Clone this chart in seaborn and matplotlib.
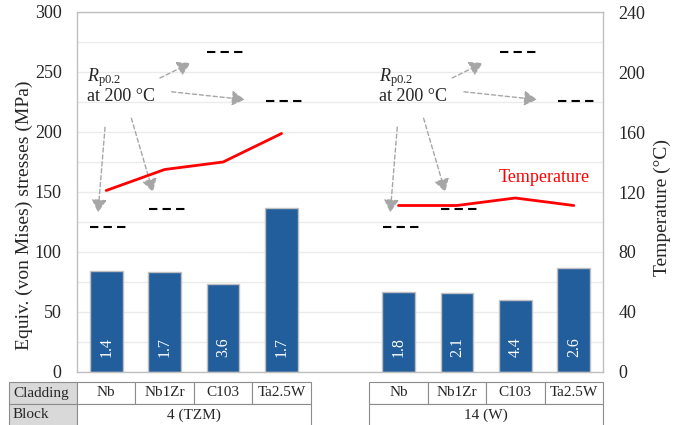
import numpy as np
import pandas as pd
import matplotlib
matplotlib.use("Agg")
import matplotlib.pyplot as plt
import seaborn as sns
from matplotlib.patches import Rectangle

# ---- data -------------------------------------------------------------
claddings = ["Nb", "Nb1Zr", "C103", "Ta2.5W"]
blocks = ["4 (TZM)", "14 (W)"]
stress_tzm = [84, 83, 73, 137]          # equivalent stress, MPa
stress_w = [67, 66, 60, 87]
safety_tzm = ["1.4", "1.7", "3.6", "1.7"]  # safety factors printed in bars
safety_w = ["1.8", "2.1", "4.4", "2.6"]
temp_tzm = [121, 135, 140, 159]         # cladding temperature, °C
temp_w = [111, 111, 116, 111]
rp02 = [121, 136, 267, 226]             # Rp0.2 at 200 °C, MPa

# ---- style ------------------------------------------------------------
sns.set_style("white")
plt.rcParams["font.family"] = ["Liberation Serif", "DejaVu Serif"]
plt.rcParams["mathtext.fontset"] = "custom"
plt.rcParams["mathtext.rm"] = "Liberation Serif"
plt.rcParams["mathtext.it"] = "Liberation Serif:italic"

BLUE = "#225e9b"
FRAME = "#bfbfbf"
GRID = "#ebebeb"
ARROW = "#a6a6a6"

# one slot per bar, with an empty slot between the two blocks
slots = [f"TZM {c}" for c in claddings] + ["gap"] + [f"W {c}" for c in claddings]
df = pd.DataFrame({
    "slot": slots,
    "stress": stress_tzm + [np.nan] + stress_w,
})
offsets = [0, 5]

fig = plt.figure(figsize=(6.73, 4.25), dpi=100)
ax = fig.add_axes([77 / 673, 53 / 425, 526 / 673, 360 / 425])

sns.barplot(data=df, x="slot", y="stress", order=slots, color=BLUE,
            saturation=1, width=0.56, edgecolor=FRAME, linewidth=1, ax=ax)

ax.set_xlim(-0.5, 8.5)
ax.set_ylim(0, 300)
ax.set_yticks(np.arange(0, 301, 50))
ax.set_yticks(np.arange(25, 300, 50), minor=True)
ax.grid(which="both", axis="y", color=GRID, lw=1)
ax.set_axisbelow(True)
ax.tick_params(axis="x", length=0, labelbottom=False)
ax.tick_params(axis="y", which="both", length=0, labelsize=13, pad=11)
ax.set_xlabel("")
ax.set_ylabel("Equiv. (von Mises) stresses (MPa)", fontsize=14, va="center")
ax.yaxis.set_label_coords(-0.1, 0.436)
for s in ax.spines.values():
    s.set_color(FRAME)
    s.set_linewidth(1)
    s.set_visible(True)

# safety factors inside the bars
for off, labels in zip(offsets, [safety_tzm, safety_w]):
    for i, lab in enumerate(labels):
        ax.text(off + i, 21, lab, rotation=90, color="white", fontsize=11.5,
                ha="center", va="center")

# Rp0.2 levels as short dashed lines
for off in offsets:
    for i, r in enumerate(rp02):
        ax.hlines(r, off + i - 0.27, off + i + 0.36, colors="black",
                  linestyles=(0, (4, 2.5)), lw=1.5, zorder=3)

# Rp0.2 callouts with dashed arrows
arrow_paths = [
    ((0.92, 245.0), (1.44, 257.5)),
    ((1.12, 233.5), (2.37, 227.0)),
    ((-0.02, 204.0), (-0.14, 133.0)),
    ((0.43, 211.5), (0.80, 150.0)),
]
for off in offsets:
    ax.text(off - 0.33, 242.5, r"$R_{\mathrm{p0.2}}$", fontsize=13,
            ha="left", va="baseline")
    ax.text(off - 0.33, 226.0, "at 200 °C", fontsize=13,
            ha="left", va="baseline")
    for (x0, y0), (x1, y1) in arrow_paths:
        ax.annotate("", xy=(off + x1, y1), xytext=(off + x0, y0),
                    arrowprops=dict(arrowstyle="-|>,head_length=0.65,head_width=0.38",
                                    color=ARROW, lw=1, linestyle=(0, (3, 2)),
                                    shrinkA=0, shrinkB=0, mutation_scale=12))

# temperature on the secondary axis
ax2 = ax.twinx()
for off, temps in zip(offsets, [temp_tzm, temp_w]):
    sns.lineplot(x=[off + i for i in range(len(temps))], y=temps, ax=ax2,
                 color="red", lw=2, sort=False)
ax2.set_ylim(0, 240)
ax2.set_yticks(np.arange(0, 241, 40))
ax2.tick_params(axis="y", length=0, labelsize=13, pad=11)
ax2.set_ylabel("Temperature (°C)", fontsize=14, va="center")
ax2.yaxis.set_label_coords(1.112, 0.458)
for s in ax2.spines.values():
    s.set_visible(False)
ax.text(7.5, 158.5, "Temperature", color="red", fontsize=13,
        ha="center", va="baseline")

# data table under the axis
y_top, y_mid, y_bot = -10 / 360, -32 / 360, -58 / 360
x_head = -68 / 526
LINE = "#8c8c8c"


def cell(x0, x1, y0, y1, text, fill="white", ha="center", size=11):
    ax.add_patch(Rectangle((x0, y1), x1 - x0, y0 - y1, transform=ax.transAxes,
                           facecolor=fill, edgecolor=LINE, lw=0.8, clip_on=False))
    tx = x0 + 4 / 526 if ha == "left" else (x0 + x1) / 2
    ax.text(tx, (y0 + y1) / 2 if y1 > -0.15 else y0 - 11 / 360, text,
            transform=ax.transAxes, ha=ha, va="center", fontsize=size,
            clip_on=False)


def frac(b):
    return (b + 0.5) / 9


cell(x_head, 0, y_top, y_mid, "Cladding", fill="#d9d9d9", ha="left")
cell(x_head, 0, y_mid, y_bot, "Block", fill="#d9d9d9", ha="left")
for off, blk in zip(offsets, blocks):
    for i, c in enumerate(claddings):
        cell(frac(off + i - 0.5), frac(off + i + 0.5), y_top, y_mid, c)
    cell(frac(off - 0.5), frac(off + 3.5), y_mid, y_bot, blk)

fig.savefig("out.png", dpi=100)
